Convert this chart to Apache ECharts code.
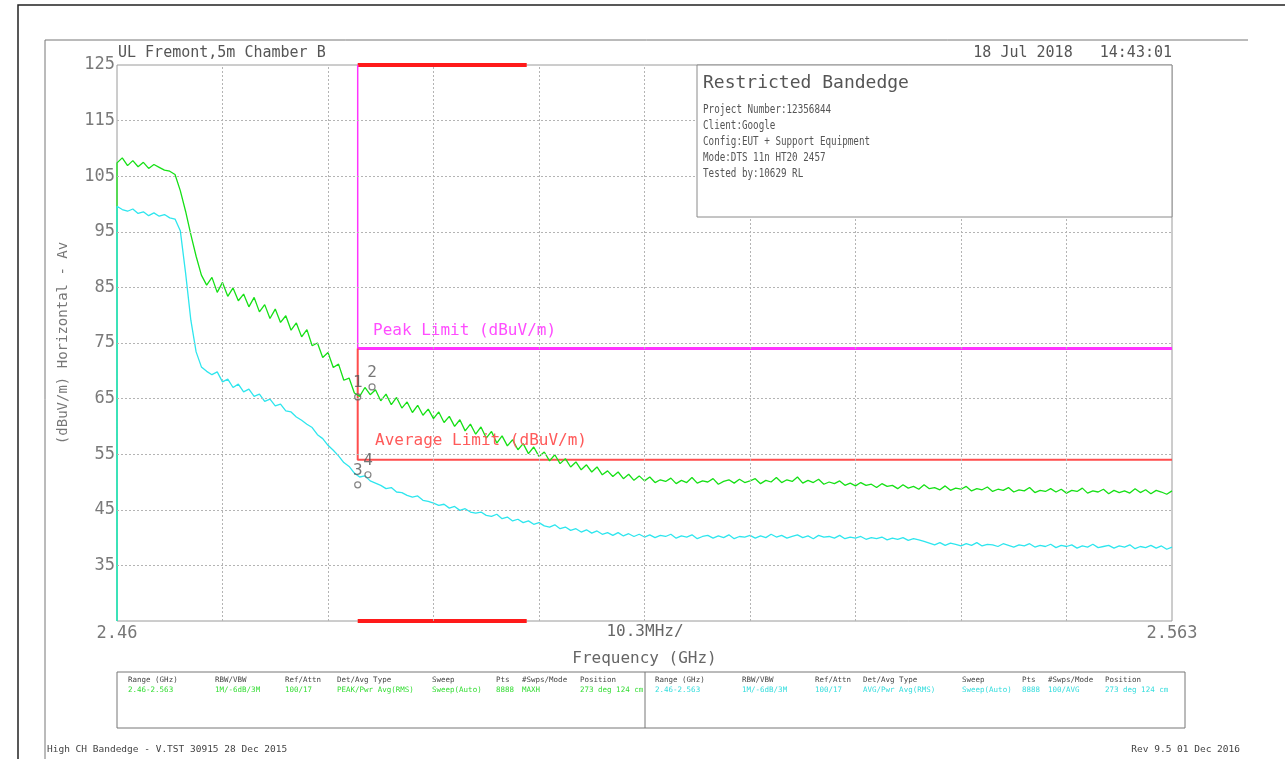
<!DOCTYPE html>
<html><head><meta charset="utf-8">
<script src="https://cdn.jsdelivr.net/npm/echarts@6/dist/echarts.min.js"></script>
<style>html,body{margin:0;padding:0;background:#fff}#c{width:1285px;height:759px}</style>
</head><body><div id="c"></div>
<script>
// ---- data ----
const freqStart = 2.46;
const freqStop = 2.563;
const sweepStartLevel = 25;
const peakTrace = [
107.4,108.3,106.9,107.8,106.7,107.5,106.4,107.1,106.6,106.1,105.9,
105.3,102.4,98.7,94.5,90.6,87.2,85.4,86.8,84.1,85.9,
83.4,84.9,82.6,83.8,81.5,83.2,80.6,81.9,79.4,81.1,
78.7,79.9,77.3,78.6,76.1,77.4,74.5,75.0,72.4,73.3,
70.6,71.2,68.3,68.7,66.0,65.4,67.0,65.7,66.6,64.6,
65.8,63.9,65.2,63.3,64.4,62.5,63.8,62.0,63.1,61.4,
62.6,60.7,61.8,60.0,61.2,59.2,60.4,58.6,59.9,57.9,
59.1,57.0,58.3,56.5,57.6,55.8,56.9,55.1,56.3,54.6,
55.4,53.8,54.9,53.3,54.2,52.7,53.6,52.2,53.1,51.8,
52.7,51.3,52.0,51.0,51.8,50.6,51.4,50.3,51.1,50.2,
50.9,49.9,50.4,50.1,50.7,49.7,50.3,49.9,50.8,49.8,
50.2,50.0,50.6,49.6,50.1,50.4,49.8,50.5,49.9,50.2,
50.6,49.7,50.3,50.0,50.8,49.9,50.4,50.1,50.9,49.8,
50.3,49.9,50.5,49.6,50.0,49.7,50.2,49.4,49.8,49.3,
49.9,49.4,49.6,49.0,49.7,49.2,49.4,48.8,49.5,48.9,
49.2,48.7,49.5,48.8,49.0,48.6,49.3,48.5,48.9,48.7,
49.2,48.4,48.8,48.6,49.1,48.3,48.7,48.5,49.0,48.2,
48.6,48.4,49.0,48.1,48.5,48.3,48.8,48.2,48.7,48.0,
48.5,48.3,48.9,48.0,48.4,48.2,48.7,47.9,48.5,48.1,
48.4,48.0,48.8,48.1,48.6,47.9,48.5,48.2,47.8,48.4
];
const avgTrace = [
99.6,99.0,98.7,99.1,98.3,98.6,97.9,98.4,97.8,98.1,97.5,
97.3,95.2,87.6,79.1,73.4,70.7,69.9,69.3,69.8,68.0,
68.5,67.0,67.6,66.2,66.7,65.4,65.8,64.5,64.9,63.7,
64.0,62.8,62.6,61.7,61.1,60.4,59.8,58.5,57.8,56.6,
55.7,54.7,53.5,52.8,51.6,50.9,51.1,50.2,49.8,49.4,
48.8,49.0,48.2,48.1,47.6,47.3,47.5,46.7,46.5,46.2,
45.8,46.0,45.3,45.6,44.9,45.2,44.6,44.4,44.6,44.0,
43.8,44.2,43.4,43.7,43.0,43.3,42.7,43.0,42.4,42.7,
42.1,41.9,42.3,41.6,41.9,41.3,41.6,41.0,41.4,40.8,
41.2,40.6,40.9,40.4,40.9,40.3,40.7,40.2,40.6,40.1,
40.5,40.0,40.4,40.2,40.6,39.9,40.3,40.1,40.5,39.8,
40.2,40.4,39.9,40.3,40.0,40.5,39.8,40.2,40.1,40.4,
39.9,40.3,40.0,40.6,40.1,40.4,39.9,40.2,40.5,40.0,
40.3,39.8,40.4,40.1,40.2,39.9,40.4,39.8,40.1,39.9,
40.2,39.7,40.0,39.8,40.1,39.6,39.9,39.7,40.0,39.5,
39.8,39.6,39.3,39.0,38.7,39.1,38.6,39.0,38.8,38.5,
38.9,38.6,39.1,38.5,38.8,38.7,38.4,38.9,38.6,38.3,
38.7,38.5,38.9,38.3,38.6,38.4,38.8,38.2,38.6,38.4,
38.7,38.1,38.5,38.3,38.8,38.2,38.4,38.6,38.1,38.5,
38.3,38.7,38.0,38.4,38.2,38.6,38.1,38.5,37.9,38.3
];
const bandEdgeFreq = 2.4835;
const restrictedBandEnd = 2.5;
const peakLimit = 74;
const avgLimit = 54;
const markerNames = ['1','2','3','4'];
const markerFreqs = [2.4835, 2.4849, 2.4835, 2.4845];
const markerLevels = [65.3, 67.1, 49.5, 51.3];
const yTickLabels = ['35','45','55','65','75','85','95','105','115','125'];
const yGridLevels = [35,45,55,65,75,85,95,105,115];
const xGridFreqs = [2.4703,2.4806,2.4909,2.5012,2.5115,2.5218,2.5321,2.5424,2.5527];
const xTickLabels = ['2.46','2.563'];
const tableHeaders = ['Range (GHz)','RBW/VBW','Ref/Attn','Det/Avg Type','Sweep','Pts','#Swps/Mode','Position'];
const tableRowPeak = ['2.46-2.563','1M/-6dB/3M','100/17','PEAK/Pwr Avg(RMS)','Sweep(Auto)','8888','MAXH','273 deg 124 cm'];
const tableRowAvg  = ['2.46-2.563','1M/-6dB/3M','100/17','AVG/Pwr Avg(RMS)','Sweep(Auto)','8888','100/AVG','273 deg 124 cm'];
const infoLines = ['Project Number:12356844','Client:Google','Config:EUT + Support Equipment','Mode:DTS 11n HT20 2457','Tested by:10629 RL'];

// ---- build ----
const MONO = "'DejaVu Sans Mono', 'Liberation Mono', monospace";
const yMin = 25, yMax = 125;
const step = (freqStop - freqStart) / (peakTrace.length - 1);
const peakData = [[freqStart, sweepStartLevel]].concat(peakTrace.map((v, i) => [freqStart + i * step, v]));
const avgData = [[freqStart, sweepStartLevel]].concat(avgTrace.map((v, i) => [freqStart + i * step, v]));
const gridStyle = {color: '#b4b4b4', type: [2, 2], width: 1};

const gridMarks = [];
yGridLevels.forEach(y => gridMarks.push({yAxis: y}));
xGridFreqs.forEach(x => gridMarks.push({xAxis: x}));

const tableColX1 = [128, 215, 285, 337, 432, 496, 522, 580];
const tableColX2 = [655, 742, 815, 863, 962, 1022, 1048, 1105];

const graphics = [
  {type: 'polyline', silent: true, shape: {points: [[18, 759], [18, 5], [1285, 5]]}, style: {stroke: '#222', lineWidth: 1.5, fill: null}},
  {type: 'polyline', silent: true, shape: {points: [[45, 759], [45, 40], [1248, 40]]}, style: {stroke: '#777', lineWidth: 1, fill: null}},
  {type: 'text', x: 118, y: 53, style: {text: 'UL Fremont,5m Chamber B', font: '15px ' + MONO, fill: '#555', verticalAlign: 'middle'}},
  {type: 'text', x: 1172, y: 53, style: {text: '18 Jul 2018   14:43:01', font: '15px ' + MONO, fill: '#555', align: 'right', verticalAlign: 'middle'}},
  {type: 'rect', z: 10, shape: {x: 697, y: 65, width: 475, height: 152}, style: {fill: '#fff', stroke: '#8a8a8a', lineWidth: 1}},
  {type: 'text', z: 11, x: 703, y: 83, style: {text: 'Restricted Bandedge', font: '18px ' + MONO, fill: '#555', verticalAlign: 'middle'}},
  {type: 'text', x: 645, y: 632, style: {text: '10.3MHz/', font: '16px ' + MONO, fill: '#666', align: 'center', verticalAlign: 'middle'}},
  {type: 'text', x: 373, y: 331, z: 5, style: {text: 'Peak Limit (dBuV/m)', font: '16px ' + MONO, fill: '#ff4dff', verticalAlign: 'middle'}},
  {type: 'text', x: 375, y: 441, z: 5, style: {text: 'Average Limit (dBuV/m)', font: '16px ' + MONO, fill: '#ff5a5a', verticalAlign: 'middle'}},
  {type: 'rect', shape: {x: 117, y: 672, width: 1068, height: 56}, style: {fill: null, stroke: '#777', lineWidth: 1}},
  {type: 'line', shape: {x1: 645, y1: 672, x2: 645, y2: 728}, style: {stroke: '#777', lineWidth: 1}},
  {type: 'text', x: 47, y: 750, style: {text: 'High CH Bandedge - V.TST 30915 28 Dec 2015', font: '9.5px ' + MONO, fill: '#444', verticalAlign: 'middle'}},
  {type: 'text', x: 1240, y: 750, style: {text: 'Rev 9.5 01 Dec 2016', font: '9.5px ' + MONO, fill: '#444', align: 'right', verticalAlign: 'middle'}}
];
infoLines.forEach((t, i) => graphics.push({type: 'text', z: 11, x: 703, y: 110 + i * 16, scaleX: 0.74, style: {text: t, font: '12.5px ' + MONO, fill: '#555', verticalAlign: 'middle'}}));
tableHeaders.forEach((t, i) => {
  graphics.push({type: 'text', x: tableColX1[i], y: 680, style: {text: t, font: '7.5px ' + MONO, fill: '#444', verticalAlign: 'middle'}});
  graphics.push({type: 'text', x: tableColX2[i], y: 680, style: {text: t, font: '7.5px ' + MONO, fill: '#444', verticalAlign: 'middle'}});
  graphics.push({type: 'text', x: tableColX1[i], y: 690, style: {text: tableRowPeak[i], font: '7.5px ' + MONO, fill: '#33dd33', verticalAlign: 'middle'}});
  graphics.push({type: 'text', x: tableColX2[i], y: 690, style: {text: tableRowAvg[i], font: '7.5px ' + MONO, fill: '#33dddd', verticalAlign: 'middle'}});
});

const option = {
  animation: false,
  backgroundColor: '#fff',
  grid: {left: 117, right: 113, top: 65, bottom: 138, show: true, borderColor: '#9a9a9a', borderWidth: 1},
  xAxis: {
    type: 'value', min: freqStart, max: freqStop,
    axisLine: {show: false}, axisTick: {show: false}, splitLine: {show: false},
    axisLabel: {
      showMinLabel: true, showMaxLabel: true, color: '#777', fontSize: 17, fontFamily: MONO, margin: 4,
      formatter: v => Math.abs(v - freqStart) < 1e-9 ? xTickLabels[0] : (Math.abs(v - freqStop) < 1e-9 ? xTickLabels[1] : '')
    },
    name: 'Frequency (GHz)', nameLocation: 'middle', nameGap: 30,
    nameTextStyle: {color: '#666', fontSize: 16, fontFamily: MONO}
  },
  yAxis: {
    type: 'value', min: yMin, max: yMax, interval: 5,
    axisLine: {show: false}, axisTick: {show: false}, splitLine: {show: false},
    axisLabel: {
      color: '#7a7a7a', fontSize: 17, fontFamily: MONO, margin: 2,
      formatter: v => yTickLabels.includes(String(v)) ? String(v) : ''
    },
    name: '(dBuV/m) Horizontal - Av', nameLocation: 'middle', nameGap: 47,
    nameTextStyle: {color: '#777', fontSize: 14, fontFamily: MONO}
  },
  series: [
    {type: 'line', data: [], silent: true, z: 1,
      markLine: {silent: true, symbol: 'none', precision: 6, label: {show: false}, lineStyle: gridStyle, data: gridMarks}},
    {type: 'line', name: 'Restricted band top', data: [[bandEdgeFreq, yMax], [restrictedBandEnd, yMax]], symbol: 'none', z: 3,
      lineStyle: {color: '#ff1a1a', width: 4}, clip: false},
    {type: 'line', name: 'Restricted band bottom', data: [[bandEdgeFreq, yMin], [restrictedBandEnd, yMin]], symbol: 'none', z: 3,
      lineStyle: {color: '#ff1a1a', width: 4}, clip: false},
    {type: 'line', name: 'Peak Limit', data: [[bandEdgeFreq, yMax], [bandEdgeFreq, peakLimit], [freqStop, peakLimit]], symbol: 'none', z: 3,
      lineStyle: {color: '#ff33ff', width: 1.5}},
    {type: 'line', name: 'Peak Limit h', data: [[bandEdgeFreq, peakLimit], [freqStop, peakLimit]], symbol: 'none', z: 3,
      lineStyle: {color: '#ff33ff', width: 3}},
    {type: 'line', name: 'Average Limit', data: [[bandEdgeFreq, peakLimit], [bandEdgeFreq, avgLimit], [freqStop, avgLimit]], symbol: 'none', z: 3,
      lineStyle: {color: '#ff4d4d', width: 2}},
    {type: 'line', name: 'Peak', data: peakData, symbol: 'none', z: 4,
      lineStyle: {color: '#16e016', width: 1.3}},
    {type: 'line', name: 'Average', data: avgData, symbol: 'none', z: 4,
      lineStyle: {color: '#2ee6ee', width: 1.3}},
    {type: 'scatter', name: 'Markers', z: 6,
      data: markerFreqs.map((f, i) => ({value: [f, markerLevels[i]], name: markerNames[i]})),
      symbol: 'circle', symbolSize: 6,
      itemStyle: {color: 'rgba(255,255,255,0)', borderColor: '#666', borderWidth: 1.2},
      label: {show: true, position: 'top', distance: 2, formatter: p => p.name, color: '#555', fontSize: 16, fontFamily: MONO}}
  ],
  graphic: graphics
};
const chart = echarts.init(document.getElementById('c'));
chart.setOption(option);
</script>
</body></html>
